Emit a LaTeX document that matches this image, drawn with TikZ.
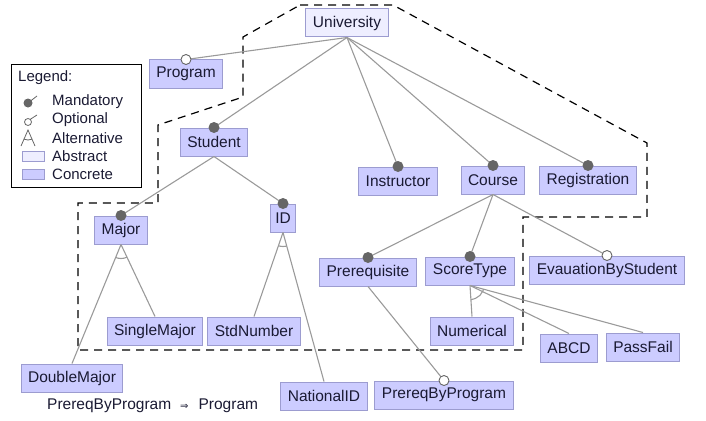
\documentclass[tikz,border=0pt]{standalone}
\usepackage{fontspec}
\setmainfont{Liberation Sans}
\newfontfamily\dejavu{DejaVu Sans}
\definecolor{concrete}{HTML}{CCCCFF}
\definecolor{abstractc}{HTML}{EEEEFF}
\definecolor{boxborder}{HTML}{9C9CD0}
\definecolor{conncol}{HTML}{9A9A9A}
\definecolor{dotcol}{HTML}{666666}
\definecolor{txt}{HTML}{1A1A33}
\tikzset{
  feat/.style={draw=boxborder, fill=concrete, line width=1pt, inner xsep=7pt, inner ysep=0pt,
    minimum height=28pt, font=\fontsize{15.5}{18}\selectfont, text=txt},
  absfeat/.style={feat, fill=abstractc},
  conn/.style={draw=conncol, line width=1.1pt},
  mand/.style={fill=dotcol},
  opt/.style={draw=dotcol, fill=white, line width=0.9pt},
  bound/.style={draw=black, dash pattern=on 8pt off 6pt, line width=1.2pt},
  legtext/.style={anchor=west, inner sep=0pt, font=\fontsize{15}{18}\selectfont, text=txt},
}
\begin{document}
\begin{tikzpicture}[x=1pt,y=-1pt]
\useasboundingbox (0,0) rectangle (706,420);

% dashed boundary
\draw[bound] (300,5) -- (393,5) -- (647,143) -- (647,217) -- (523,217) -- (523,350)
  -- (78,350) -- (78,203) -- (158,203) -- (158,125) -- (243,97) -- (243,37) -- cycle;

% features
\node[absfeat] (University) at (347,23) {University};
\node[feat] (Program) at (186,74) {Program};
\node[feat] (Student) at (214,142) {Student};
\node[feat] (Instructor) at (398,181) {Instructor};
\node[feat] (Course) at (493,180) {Course};
\node[feat] (Registration) at (588,180) {Registration};
\node[feat] (Major) at (121,230) {Major};
\node[feat, inner xsep=5pt] (ID) at (283,218) {ID};
\node[feat] (Prerequisite) at (368,272) {Prerequisite};
\node[feat] (ScoreType) at (470,271) {ScoreType};
\node[feat] (Evaluation) at (607,270) {EvauationByStudent};
\node[feat] (SingleMajor) at (155,331) {SingleMajor};
\node[feat] (StdNumber) at (254,331) {StdNumber};
\node[feat] (Numerical) at (472,331) {Numerical};
\node[feat] (ABCD) at (569,348) {ABCD};
\node[feat] (PassFail) at (643,347) {PassFail};
\node[feat] (DoubleMajor) at (72,378) {DoubleMajor};
\node[feat] (NationalID) at (324,396) {NationalID};
\node[feat] (PrereqByProgram) at (444,395) {PrereqByProgram};

% connectors
\foreach \c in {Program,Student,Instructor,Course,Registration}
  \draw[conn] (University.south) -- (\c.north);
\foreach \c in {Major,ID}
  \draw[conn] (Student.south) -- (\c.north);
\foreach \c in {SingleMajor,DoubleMajor}
  \draw[conn] (Major.south) -- (\c.north);
\foreach \c in {StdNumber,NationalID}
  \draw[conn] (ID.south) -- (\c.north);
\foreach \c in {Prerequisite,ScoreType,Evaluation}
  \draw[conn] (Course.south) -- (\c.north);
\draw[conn] (Prerequisite.south) -- (PrereqByProgram.north);
\foreach \c in {Numerical,ABCD,PassFail}
  \draw[conn] (ScoreType.south) -- (\c.north);

% alternative arcs
\begin{scope}
  \clip (Major.south) -- (DoubleMajor.north) -- (SingleMajor.north) -- cycle;
  \draw[conn] (Major.south) circle[radius=14pt];
\end{scope}
\begin{scope}
  \clip (ID.south) -- (StdNumber.north) -- (NationalID.north) -- cycle;
  \draw[conn] (ID.south) circle[radius=14pt];
\end{scope}
\begin{scope}
  \clip (ScoreType.south) -- (Numerical.north) -- (ABCD.north) -- (PassFail.north) -- cycle;
  \draw[conn] (ScoreType.south) circle[radius=14pt];
\end{scope}

% mandatory / optional markers
\foreach \c in {Student,Instructor,Course,Registration,Major,ID,Prerequisite,ScoreType}
  \fill[mand] (\c.north) circle[radius=5.5pt];
\foreach \c in {Program,Evaluation,PrereqByProgram}
  \draw[opt] (\c.north) circle[radius=5pt];

% constraint
\node[anchor=west, inner sep=0pt, font=\fontsize{15.5}{18}\selectfont, text=txt] (constraint) at (47,406)
  {PrereqByProgram\hspace{9pt}{\dejavu\fontsize{10}{12}\selectfont ⇒}\hspace{10pt}Program};

% legend
\node[draw=black, line width=0.8pt, minimum width=130pt, minimum height=123pt, inner sep=0pt] (legend) at (76,125.5) {};
\node[legtext] (lgTitle) at (18,78) {Legend:};
\node[legtext] (lgMand) at (52,102) {Mandatory};
\node[legtext] (lgOpt) at (52,120) {Optional};
\node[legtext] (lgAlt) at (52,138) {Alternative};
\node[legtext] (lgAbs) at (52,156) {Abstract};
\node[legtext] (lgCon) at (52,174) {Concrete};
\draw[draw=dotcol, line width=0.8pt] (28,103) -- (37,96);
\fill[mand] (28,103) circle[radius=4.5pt];
\draw[draw=dotcol, line width=0.8pt] (30,119.5) -- (37,115);
\draw[opt, line width=0.8pt] (28,122) circle[radius=3.5pt];
\draw[draw=dotcol, line width=0.8pt] (21,146) -- (28,130) -- (35,146);
\begin{scope}
  \clip (28,130) -- (18,152) -- (38,152) -- cycle;
  \draw[draw=dotcol, line width=0.8pt] (28,130) circle[radius=10pt];
\end{scope}
\draw[draw=boxborder, fill=abstractc, line width=0.8pt] (22,151) rectangle (44,161);
\draw[draw=boxborder, fill=concrete, line width=0.8pt] (22,169) rectangle (44,179);
\end{tikzpicture}
\end{document}
